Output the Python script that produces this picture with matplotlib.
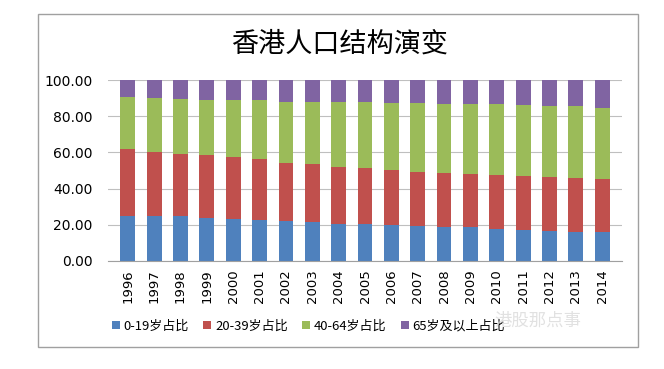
import numpy as np
import matplotlib.pyplot as plt
from matplotlib.patches import Rectangle

plt.rcParams['font.family'] = ['Noto Sans CJK SC', 'DejaVu Sans']

# 数据
years = ['1996', '1997', '1998', '1999', '2000', '2001', '2002', '2003', '2004', '2005',
         '2006', '2007', '2008', '2009', '2010', '2011', '2012', '2013', '2014']
age_0_19 = [25.0, 25.0, 24.7, 23.9, 23.2, 22.7, 21.9, 21.4, 20.6, 20.3,
            19.9, 19.3, 19.0, 18.6, 17.9, 17.3, 16.8, 16.2, 15.8]
age_20_39 = [36.9, 35.4, 34.4, 34.5, 34.1, 33.5, 32.4, 32.0, 31.1, 30.9,
             30.6, 30.1, 29.6, 29.5, 29.4, 29.7, 29.6, 29.7, 29.3]
age_40_64 = [28.5, 29.8, 30.2, 30.7, 31.6, 32.7, 33.7, 34.6, 36.0, 36.5,
             37.0, 37.7, 38.3, 38.8, 39.3, 39.2, 39.4, 39.6, 39.6]
age_65 = [9.6, 9.8, 10.7, 10.9, 11.1, 11.1, 12.0, 12.0, 12.3, 12.3,
          12.5, 12.9, 13.1, 13.1, 13.4, 13.8, 14.2, 14.5, 15.3]

series = [age_0_19, age_20_39, age_40_64, age_65]
labels = ['0-19岁占比', '20-39岁占比', '40-64岁占比', '65岁及以上占比']
colors = ['#4F81BD', '#C0504D', '#9BBB59', '#8064A2']

fig = plt.figure(figsize=(6.64, 3.69), dpi=100)
ax = fig.add_axes([108 / 664, 1 - 261 / 369, 514 / 664, 181 / 369])

# 外框
fig.patches.append(Rectangle((38 / 664, 1 - 347 / 369), 600 / 664, 333 / 369,
                             transform=fig.transFigure, fill=False,
                             edgecolor='#A0A0A0', linewidth=1))

x = np.arange(len(years))
bottom = np.zeros(len(years))
for vals, lab, c in zip(series, labels, colors):
    ax.bar(x, vals, width=0.56, bottom=bottom, color=c, label=lab, zorder=2)
    bottom += np.array(vals)

ax.set_xlim(-0.75, len(years) - 0.25)
ax.set_ylim(0, 100)
ax.set_yticks(np.arange(0, 101, 20))
ax.set_yticklabels(['%.2f' % v for v in np.arange(0, 101, 20)],
                   fontsize=10, family=['DejaVu Sans'])
ax.set_xticks(x)
ax.set_xticklabels(years, rotation=90, fontsize=9.5, family=['DejaVu Sans'])
ax.tick_params(axis='x', length=0, pad=6)
ax.tick_params(axis='y', length=0, pad=11)
ax.grid(axis='y', color='#BFBFBF', linewidth=0.8, zorder=0)
for s in ['top', 'right', 'left']:
    ax.spines[s].set_visible(False)
ax.spines['bottom'].set_color('#A0A0A0')

fig.text(340 / 664, 1 - 44 / 369, '香港人口结构演变', fontsize=19.5,
         ha='center', va='center')

ax.legend(loc='center left', bbox_to_anchor=(-0.015, -0.36), ncol=4, frameon=False,
          fontsize=9.4, handlelength=0.6, handleheight=0.6, handletextpad=0.3,
          columnspacing=1.1)

# 水印
fig.text(538 / 664, 1 - 321 / 369, '港股那点事', fontsize=12.5, color='#DADADA',
         ha='center', va='center', alpha=0.8)

plt.savefig('out.png', dpi=100)
